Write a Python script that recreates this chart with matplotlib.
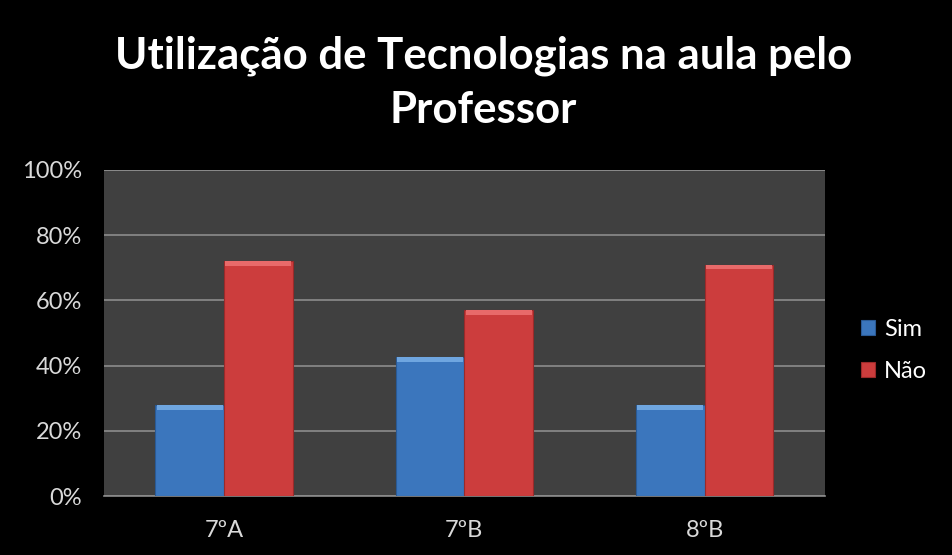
import matplotlib
matplotlib.use("Agg")
import matplotlib.pyplot as plt
import numpy as np

categories = ["7ºA", "7ºB", "8ºB"]
sim = [28, 42.5, 28]
nao = [72, 57, 71]
series_names = ["Sim", "Não"]
yticks = [0, 20, 40, 60, 80, 100]
ytick_labels = ["0%", "20%", "40%", "60%", "80%", "100%"]
title_lines = ["Utilização de Tecnologias na aula pelo", "Professor"]

plt.rcParams['font.family'] = ['Lato', 'DejaVu Sans']

fig = plt.figure(figsize=(9.53, 5.55), dpi=100, facecolor="black")
ax = fig.add_axes([0.1091, 0.1063, 0.7563, 0.5874])
ax.set_facecolor("#404040")

x = np.arange(len(categories))
w = 1 / 3.5
b1 = ax.bar(x - w / 2, sim, w, color="#3B76BD", edgecolor="#2A5A95", linewidth=0.8,
            label=series_names[0], zorder=3)
b2 = ax.bar(x + w / 2, nao, w, color="#CC3D3D", edgecolor="#9A2A2A", linewidth=0.8,
            label=series_names[1], zorder=3)
# bevel highlight at top of each bar
ax.bar(x - w / 2, [1.5] * len(sim), w * 0.96, bottom=[v - 1.5 for v in sim],
       color="#6FA6E0", linewidth=0, zorder=4)
ax.bar(x + w / 2, [1.5] * len(nao), w * 0.96, bottom=[v - 1.5 for v in nao],
       color="#E86A6A", linewidth=0, zorder=4)

ax.set_xlim(-0.5, len(categories) - 0.5)
ax.set_ylim(0, 100)
ax.set_yticks(yticks)
ax.set_yticklabels(ytick_labels)
ax.set_xticks(x)
ax.set_xticklabels(categories)
ax.tick_params(axis="both", colors="#D9D9D9", labelsize=17, length=0)
ax.tick_params(axis="x", pad=17)
ax.tick_params(axis="y", pad=16)
ax.yaxis.grid(True, color="#8C8C8C", linewidth=1.2, zorder=0)
ax.set_axisbelow(True)
for s in ["top", "right", "left"]:
    ax.spines[s].set_visible(False)
ax.spines["bottom"].set_color("#8C8C8C")
ax.spines["bottom"].set_linewidth(1.2)
ax.axhline(100, color="#8C8C8C", linewidth=1.2, zorder=1)

fig.text(0.507, 0.8757, title_lines[0], ha="center", va="baseline", color="white",
         fontsize=31.5, fontweight="bold")
fig.text(0.507, 0.7784, title_lines[1], ha="center", va="baseline", color="white",
         fontsize=31.5, fontweight="bold")

leg = fig.legend(handles=[b1, b2], labels=series_names, loc="center left",
                 bbox_to_anchor=(0.903, 0.369), frameon=False, fontsize=17,
                 labelcolor="white", handlelength=0.6, handleheight=0.6,
                 handletextpad=0.4, labelspacing=0.9, borderpad=0, borderaxespad=0)

fig.savefig("out.png", dpi=100, facecolor="black")
